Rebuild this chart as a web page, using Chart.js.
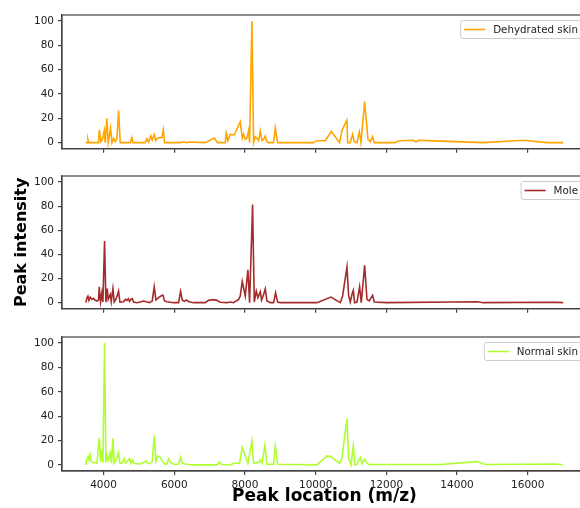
<!DOCTYPE html>
<html>
<head>
<meta charset="utf-8">
<script src="https://cdn.jsdelivr.net/npm/chart.js@4/dist/chart.umd.min.js"></script>
<style>
  body { margin: 0; background: #fff; overflow: hidden; }
  #wrap { position: relative; width: 580px; height: 508px; overflow: hidden; background: #fff; }
  #wrap canvas { position: absolute; left: 0; }
</style>
</head>
<body>
<div id="wrap">
  <canvas id="c1" width="590" height="159" style="top:0"></canvas>
  <canvas id="c2" width="590" height="160" style="top:159px"></canvas>
  <canvas id="c3" width="590" height="188" style="top:320px"></canvas>
</div>
<script>
/* --- data (m/z, intensity) --- */
var mzDehydrated = [3500, 3540, 3558, 3580, 3859, 3878, 3926, 3973, 4020, 4048, 4095, 4133, 4199, 4237, 4284, 4331,
  4378, 4425, 4472, 4755, 4802, 4831, 5180, 5227, 5274, 5340, 5378, 5434, 5472, 5529, 5604, 5651, 5689, 5727, 6170,
  6263, 6359, 6453, 6877, 7132, 7225, 7443, 7471, 7518, 7584, 7697, 7867, 7924, 7961, 8009, 8056, 8103, 8131, 8197,
  8244, 8292, 8339, 8386, 8433, 8480, 8527, 8575, 8622, 8669, 8810, 8857, 8923, 9942, 10036, 10272, 10442, 10677,
  10743, 10885, 10904, 10979, 11045, 11092, 11168, 11234, 11281, 11385, 11479, 11545, 11611, 11658, 12252, 12346,
  12771, 12837, 12912, 13337, 14751, 15883, 16543, 17000];
var intDehydrated = [0, 0, 2.7, 0, 0, 10.4, 0.8, 3, 9.9, 0, 20, 0, 12, 0, 3.6, 0.8,
  3.6, 26.3, 0, 0, 4.1, 0, 0, 3.3, 0.5, 5.5, 2.2, 6.6, 1.6, 3.8, 4.1, 4.1, 10.4, 0, 0,
  0.5, 0, 0.5, 0, 3.8, 0, 0, 7.7, 1.6, 6.8, 6.3, 17.3, 3.6, 7.1, 2.7, 3.6, 9.9, 0, 100,
  0, 4.9, 3.6, 1.6, 9.6, 1.6, 2.7, 5.5, 0.8, 0, 0, 12, 0, 0, 1.6, 1.6, 9.2, 0,
  10.1, 18.4, 0, 0, 6.8, 0.8, 0, 8.8, 0, 33.7, 2.7, 0.8, 4.9, 0, 0, 1.6,
  1.9, 0.5, 1.9, 1.4, 0, 1.9, 0, 0];

var mzMole = [3500, 3530, 3558, 3586, 3624, 3671, 3718, 3756, 3812, 3859,
  3878, 3916, 3954, 3982, 4029, 4067, 4105, 4133, 4190, 4218,
  4265, 4303, 4359, 4425, 4463, 4567, 4614, 4661, 4699, 4736,
  4774, 4812, 4850, 4944, 5038, 5132, 5208, 5302, 5378, 5434,
  5482, 5557, 5623, 5680, 5727, 5793, 5981, 6123, 6179, 6226,
  6283, 6340, 6396, 6453, 6547, 6877, 6971, 7113, 7207, 7301,
  7490, 7584, 7679, 7820, 7867, 7924, 8009, 8084, 8131, 8216,
  8263, 8320, 8367, 8433, 8471, 8527, 8575, 8622, 8716, 8810,
  8867, 8923, 8999, 10036, 10432, 10696, 10762, 10885, 10932, 10979,
  11026, 11064, 11102, 11168, 11243, 11290, 11385, 11451, 11517, 11611,
  11658, 12017, 13902, 14563, 14751, 16731, 17000];
var intMole = [0, 4.1, 5.5, 1.9, 4.6, 2.7, 3.6, 2.2, 1.4, 2.2,
  13.1, 0.8, 8.2, 0.5, 51.1, 0.5, 11.7, 2.7, 6.8, 0.8,
  11.7, 0.5, 3.3, 9.6, 0.5, 0.8, 2.7, 1.9, 3.3, 1.1,
  2.7, 3.3, 0.5, 0, 0.5, 1.4, 0.8, 0, 1.4, 13.1,
  2.2, 4.1, 5.5, 6.3, 1.4, 0.8, 0, 0, 9.3, 2.2,
  1.1, 2.2, 1.1, 0.5, 0, 0, 1.9, 2.5, 1.9, 0.3,
  0, 0.5, 0, 2.7, 5.5, 17.5, 5.5, 27.3, 0, 81.4,
  0.5, 9.6, 4.1, 9.0, 2.2, 6.8, 11.5, 1.4, 0, 0,
  8.2, 0.5, 0, 0, 4.6, 0, 5.5, 29.5, 6.0, 0.5,
  6.8, 10.1, 0, 0.5, 13.1, 0, 30.9, 2.7, 1.4, 6.0,
  0.5, 0, 0.5, 0.8, 0, 0.3, 0];

var mzNormal = [3500, 3530, 3567, 3595, 3624, 3661, 3699, 3746, 3812, 3878,
  3916, 3954, 3982, 4029, 4067, 4095, 4133, 4190, 4227, 4265,
  4303, 4359, 4425, 4463, 4520, 4586, 4623, 4661, 4699, 4736,
  4774, 4821, 4850, 5038, 5132, 5208, 5246, 5302, 5378, 5434,
  5482, 5538, 5604, 5670, 5746, 5793, 5840, 5887, 5981, 6123,
  6179, 6226, 6311, 6405, 6547, 7207, 7282, 7349, 7584, 7679,
  7848, 7924, 8084, 8197, 8244, 8386, 8433, 8480, 8565, 8622,
  8810, 8857, 8923, 9376, 10036, 10319, 10432, 10677, 10743, 10885,
  10932, 10998, 11064, 11111, 11168, 11262, 11309, 11385, 11451, 11498,
  12403, 13525, 14563, 14798, 16826, 16873, 17000];
var intNormal = [0, 4.6, 6.8, 3.5, 8.2, 2.7, 1.9, 1.9, 1.4, 22.3,
  2.7, 12.3, 1.9, 100, 1.9, 7.4, 4.1, 10.1, 1.4, 21.8,
  1.4, 4.1, 10.4, 1.4, 1.4, 5.2, 1.4, 2.7, 4.1, 5.2,
  1.4, 4.1, 1.4, 0.8, 1.9, 3.5, 1.4, 0.8, 2.7, 24.3,
  2.7, 7.4, 6.3, 2.7, 0.5, 0.8, 4.9, 2.2, 0.5, 0.5,
  6.3, 1.4, 0.8, 0.3, 0, 0, 2.2, 0.3, 0, 1.4,
  1.4, 14.4, 1.4, 19.6, 1.4, 1.9, 4.1, 1.4, 16.1, 0.5,
  0.5, 15.5, 0.5, 0.3, 0, 7.4, 6.8, 1.4, 5.4, 38.1,
  5.4, 0, 15.5, 0, 0.5, 6.3, 0.8, 4.6, 1.9, 0.3,
  0.3, 0.3, 2.7, 0.3, 0.8, 0.3, 0.3];

var xTicks = [4000, 6000, 8000, 10000, 12000, 14000, 16000];
var yTicks = [0, 20, 40, 60, 80, 100];

/* --- shared look --- */
var FONT = '"DejaVu Sans", sans-serif';
var SPINE = '#444';
var TXT = '#222';

// frame (right side falls just outside the picture) + matplotlib-like legend box at top right
var frameLegend = {
  id: 'frameLegend',
  afterDraw: function(chart) {
    var ctx = chart.ctx, a = chart.chartArea;
    ctx.save();
    ctx.strokeStyle = SPINE;
    ctx.lineWidth = 1.2;
    ctx.strokeRect(a.left, a.top, a.right - a.left, a.bottom - a.top);

    var ds = chart.data.datasets[0];
    ctx.font = '10.3px ' + FONT;
    var tw = ctx.measureText(ds.label).width;
    var pad = 4, handle = 21, gap = 8, h = 18;
    var w = pad * 2 + handle + gap + tw;
    var right = a.right - 5, top = a.top + 5, left = right - w;
    ctx.beginPath();
    ctx.roundRect(left + 0.5, top + 0.5, w, h, 2.5);
    ctx.fillStyle = 'rgba(255,255,255,0.8)';
    ctx.fill();
    ctx.strokeStyle = '#cccccc';
    ctx.lineWidth = 1;
    ctx.stroke();

    var cy = top + h / 2 + 0.5;
    ctx.beginPath();
    ctx.moveTo(left + pad, cy);
    ctx.lineTo(left + pad + handle, cy);
    ctx.strokeStyle = ds.borderColor;
    ctx.lineWidth = 1.6;
    ctx.stroke();

    ctx.fillStyle = TXT;
    ctx.textBaseline = 'middle';
    ctx.textAlign = 'left';
    ctx.fillText(ds.label, left + pad + handle + gap, cy + 0.5);
    ctx.restore();
  }
};

function makePanel(id, mz, vals, color, label, cfg) {
  var pts = [];
  for (var i = 0; i < mz.length; i++) pts.push({ x: mz[i], y: vals[i] });

  return new Chart(document.getElementById(id), {
    type: 'line',
    data: {
      datasets: [{
        label: label,
        data: pts,
        borderColor: color,
        backgroundColor: color,
        borderWidth: 1.6,
        pointRadius: 0,
        tension: 0,
        fill: false
      }]
    },
    options: {
      responsive: false,
      devicePixelRatio: 1,
      animation: false,
      events: [],
      layout: { padding: { top: cfg.padTop, right: 3, left: 0, bottom: 0 } },
      plugins: { legend: { display: false }, tooltip: { enabled: false } },
      scales: {
        x: {
          type: 'linear',
          min: 2825,
          max: 17675,
          afterBuildTicks: function(s) { s.ticks = xTicks.map(function(v) { return { value: v }; }); },
          afterFit: function(s) { s.height = cfg.xHeight; },
          grid: { drawOnChartArea: false, drawTicks: true, tickLength: 4, color: SPINE, lineWidth: 1.2 },
          border: { display: true, color: SPINE, width: 1.2 },
          ticks: {
            display: cfg.xLabels,
            padding: 4,
            color: TXT,
            font: { family: FONT, size: 10.5 },
            maxRotation: 0,
            callback: function(v) { return String(v); }
          },
          title: {
            display: cfg.xLabels,
            text: 'Peak location (m/z)',
            color: '#000',
            font: { family: FONT, size: 17, weight: 'bold' },
            padding: { top: 0, bottom: 1 }
          }
        },
        y: {
          min: -5,
          max: 105,
          afterBuildTicks: function(s) { s.ticks = yTicks.map(function(v) { return { value: v }; }); },
          afterFit: function(s) { s.width = 62; },
          grid: { drawOnChartArea: false, drawTicks: true, tickLength: 4, color: SPINE, lineWidth: 1.2 },
          border: { display: true, color: SPINE, width: 1.2 },
          ticks: {
            padding: 4,
            color: TXT,
            font: { family: FONT, size: 10.5 },
            callback: function(v) { return String(v); }
          },
          title: {
            display: cfg.yTitle,
            text: 'Peak intensity',
            color: '#000',
            font: { family: FONT, size: 16, weight: 'bold' },
            padding: { top: 12, bottom: 0 }
          }
        }
      }
    },
    plugins: [frameLegend]
  });
}

makePanel('c1', mzDehydrated, intDehydrated, '#FFA500', 'Dehydrated skin',
  { padTop: 15, xHeight: 10, xLabels: false, yTitle: false });
makePanel('c2', mzMole, intMole, '#A52A2A', 'Mole',
  { padTop: 17, xHeight: 10, xLabels: false, yTitle: true });
makePanel('c3', mzNormal, intNormal, '#ADFF2F', 'Normal skin',
  { padTop: 17, xHeight: 37, xLabels: true, yTitle: false });
</script>
</body>
</html>
